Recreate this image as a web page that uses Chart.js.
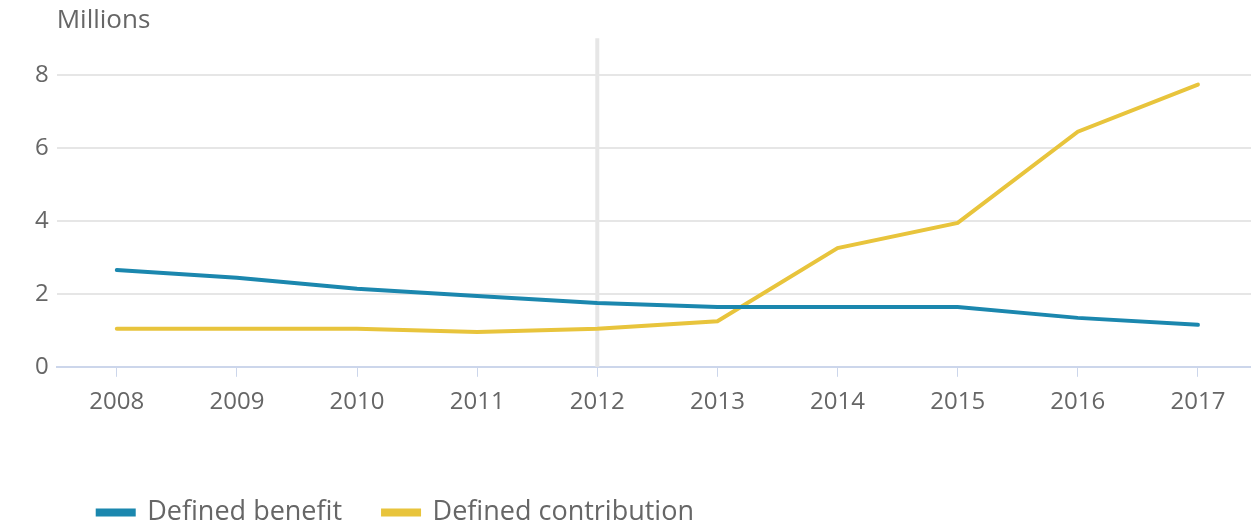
<!DOCTYPE html>
<html>
<head>
<meta charset="utf-8">
<script src="https://cdn.jsdelivr.net/npm/chart.js@4"></script>
<style>
  html, body { margin: 0; padding: 0; background: #fff; overflow: hidden; }
  #wrap { position: relative; width: 1258px; height: 524px; }
</style>
</head>
<body>
<div id="wrap"><canvas id="pensionChart"></canvas></div>
<script>
const years = ['2008', '2009', '2010', '2011', '2012', '2013', '2014', '2015', '2016', '2017'];
const definedBenefit = [2.65, 2.44, 2.14, 1.94, 1.75, 1.64, 1.64, 1.64, 1.34, 1.15];
const definedContribution = [1.04, 1.04, 1.04, 0.95, 1.04, 1.25, 3.25, 3.94, 6.44, 7.73];
const markerYear = '2012';

const textColor = '#666666';
const fontFamily = '"Open Sans", sans-serif';

// vertical plot line behind the series
const plotLine = {
    id: 'plotLine',
    beforeDatasetsDraw(chart) {
        const x = chart.scales.x.getPixelForValue(years.indexOf(markerYear));
        const area = chart.chartArea;
        const ctx = chart.ctx;
        ctx.save();
        ctx.strokeStyle = '#e6e6e6';
        ctx.lineWidth = 4;
        ctx.beginPath();
        ctx.moveTo(x, area.top);
        ctx.lineTo(x, area.bottom);
        ctx.stroke();
        ctx.restore();
    }
};

const ctx = document.getElementById('pensionChart').getContext('2d');

new Chart(ctx, {
    type: 'line',
    data: {
        labels: years,
        datasets: [
            {
                label: 'Defined benefit',
                data: definedBenefit,
                borderColor: '#1b87ae',
                backgroundColor: '#1b87ae',
                borderWidth: 4,
                pointRadius: 0,
                tension: 0,
                borderCapStyle: 'round',
                fill: false
            },
            {
                label: 'Defined contribution',
                data: definedContribution,
                borderColor: '#e8c43c',
                backgroundColor: '#e8c43c',
                borderWidth: 4,
                pointRadius: 0,
                tension: 0,
                borderCapStyle: 'round',
                fill: false
            }
        ]
    },
    options: {
        responsive: true,
        maintainAspectRatio: false,
        animation: false,
        layout: {
            padding: { left: 27, right: 0, top: 0, bottom: -12 }
        },
        scales: {
            x: {
                offset: true,
                grid: {
                    offset: false,
                    drawOnChartArea: false,
                    drawTicks: true,
                    tickLength: 10,
                    color: '#ccd6eb'
                },
                border: { color: '#ccd6eb', width: 2 },
                ticks: {
                    color: textColor,
                    font: { family: fontFamily, size: 24 },
                    padding: 11,
                    maxRotation: 0
                }
            },
            y: {
                min: 0,
                max: 9,
                afterBuildTicks: axis => {
                    axis.ticks = axis.ticks.filter(t => t.value % 2 === 0);
                },
                grid: {
                    color: '#e6e6e6',
                    lineWidth: 2,
                    drawTicks: false
                },
                border: { display: false },
                ticks: {
                    stepSize: 1,
                    color: textColor,
                    font: { family: fontFamily, size: 24 },
                    padding: 8
                }
            }
        },
        plugins: {
            title: {
                display: true,
                text: 'Millions',
                align: 'start',
                fullSize: false,
                color: textColor,
                font: { family: fontFamily, size: 26, weight: 'normal' },
                padding: { top: 5, bottom: 2 }
            },
            legend: {
                display: true,
                position: 'bottom',
                align: 'start',
                fullSize: false,
                title: {
                    display: true,
                    text: '',
                    padding: { top: 0, bottom: 16 }
                },
                labels: {
                    boxWidth: 36,
                    boxHeight: 4,
                    padding: 41,
                    color: textColor,
                    font: { family: fontFamily, size: 27 }
                }
            },
            tooltip: { enabled: false }
        }
    },
    plugins: [plotLine]
});
</script>
</body>
</html>
